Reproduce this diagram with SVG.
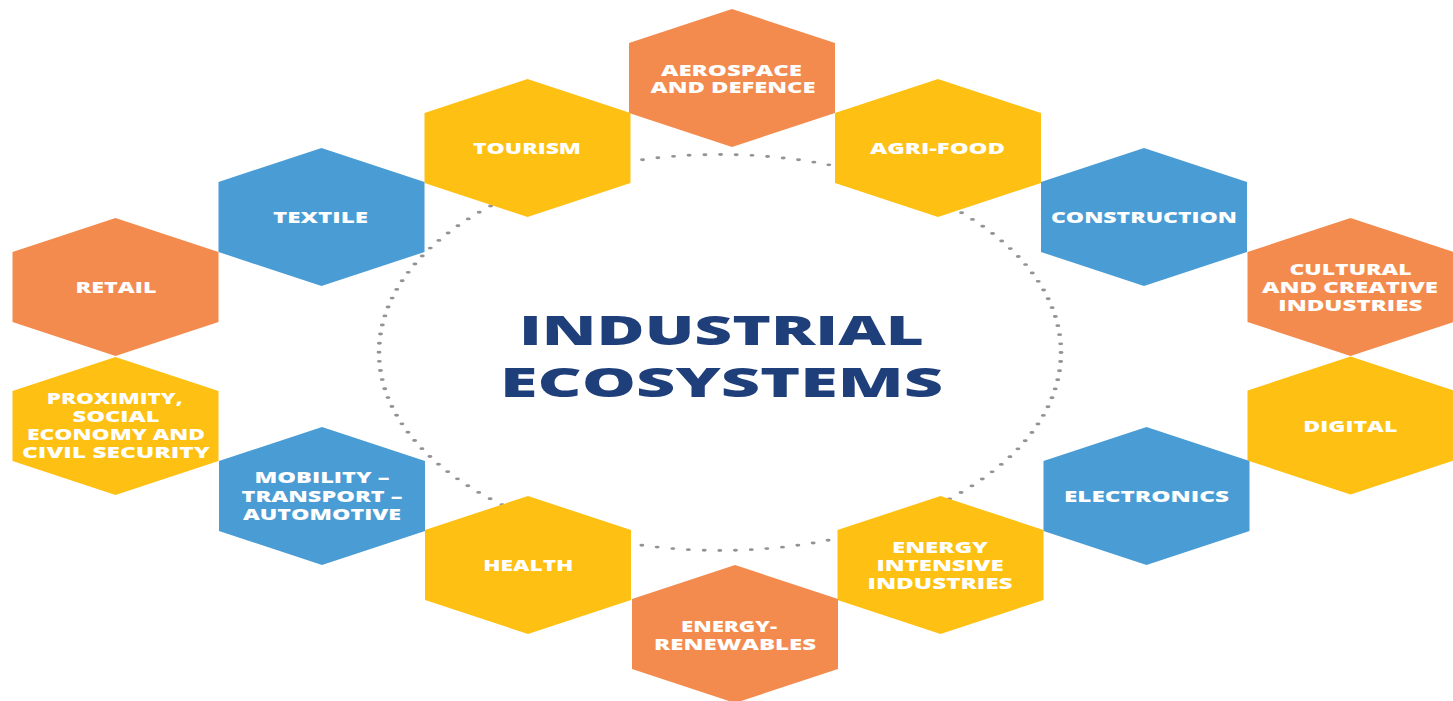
<svg xmlns="http://www.w3.org/2000/svg" xmlns:xlink="http://www.w3.org/1999/xlink" width="1453" height="701" viewBox="0 0 1453 701">
<style>
.o{fill:#F48B4E}
.y{fill:#FDC013}
.b{fill:#4A9CD4}
.lbl{font-family:"Open Sans","Liberation Sans",sans-serif;font-weight:800;font-size:15px;fill:#FFFFFF;text-anchor:middle}
.title{font-family:"Open Sans","Liberation Sans",sans-serif;font-weight:800;font-size:40px;fill:#1F3F7A;text-anchor:middle}
.dots{fill:none;stroke:#939393;stroke-width:2.9;stroke-linecap:round;stroke-dasharray:0 9.147}
</style>
<defs>
<polygon id="hex" points="0,-69 103,-35 103,35 0,69 -103,35 -103,-35"/>
</defs>
<rect width="1453" height="701" fill="#FFFFFF"/>
<g id="connectors">
<circle class="dots" cx="0" cy="0" r="198" transform="translate(720,352.5) scale(1.7222,1)"/>
</g>
<g id="aerospace"><use xlink:href="#hex" class="o" x="732" y="78"/>
<text class="lbl" transform="matrix(1.6 0 0 1 731.5 75.5)" textLength="88.1" lengthAdjust="spacingAndGlyphs">AEROSPACE</text>
<text class="lbl" transform="matrix(1.6 0 0 1 733 93)" textLength="103.1" lengthAdjust="spacingAndGlyphs">AND DEFENCE</text></g>
<g id="tourism"><use xlink:href="#hex" class="y" x="527.5" y="148"/>
<text class="lbl" transform="matrix(1.6 0 0 1 527 154)" textLength="67.5" lengthAdjust="spacingAndGlyphs">TOURISM</text></g>
<g id="agrifood"><use xlink:href="#hex" class="y" x="938" y="148"/>
<text class="lbl" transform="matrix(1.6 0 0 1 937.5 154)" textLength="84.4" lengthAdjust="spacingAndGlyphs">AGRI-FOOD</text></g>
<g id="textile"><use xlink:href="#hex" class="b" x="321.5" y="217"/>
<text class="lbl" transform="matrix(1.6 0 0 1 320.5 223)" textLength="59.4" lengthAdjust="spacingAndGlyphs">TEXTILE</text></g>
<g id="construction"><use xlink:href="#hex" class="b" x="1144" y="217"/>
<text class="lbl" transform="matrix(1.6 0 0 1 1144 223)" textLength="116.3" lengthAdjust="spacingAndGlyphs">CONSTRUCTION</text></g>
<g id="retail"><use xlink:href="#hex" class="o" x="115.5" y="287"/>
<text class="lbl" transform="matrix(1.6 0 0 1 116 292.5)" textLength="50.6" lengthAdjust="spacingAndGlyphs">RETAIL</text></g>
<g id="cultural"><use xlink:href="#hex" class="o" x="1350.5" y="287"/>
<text class="lbl" transform="matrix(1.6 0 0 1 1350.5 275)" textLength="76.3" lengthAdjust="spacingAndGlyphs">CULTURAL</text>
<text class="lbl" transform="matrix(1.6 0 0 1 1350 292.7)" textLength="110" lengthAdjust="spacingAndGlyphs">AND CREATIVE</text>
<text class="lbl" transform="matrix(1.6 0 0 1 1350.3 310.7)" textLength="90" lengthAdjust="spacingAndGlyphs">INDUSTRIES</text></g>
<g id="proximity"><use xlink:href="#hex" class="y" x="115.5" y="426"/>
<text class="lbl" transform="matrix(1.6 0 0 1 114.7 403.5)" textLength="85" lengthAdjust="spacingAndGlyphs">PROXIMITY,</text>
<text class="lbl" transform="matrix(1.6 0 0 1 116 421.5)" textLength="54.4" lengthAdjust="spacingAndGlyphs">SOCIAL</text>
<text class="lbl" transform="matrix(1.6 0 0 1 116 439.5)" textLength="111.3" lengthAdjust="spacingAndGlyphs">ECONOMY AND</text>
<text class="lbl" transform="matrix(1.6 0 0 1 116 457.5)" textLength="117.5" lengthAdjust="spacingAndGlyphs">CIVIL SECURITY</text></g>
<g id="digital"><use xlink:href="#hex" class="y" x="1350.5" y="425.5"/>
<text class="lbl" transform="matrix(1.6 0 0 1 1350.3 431.5)" textLength="58.8" lengthAdjust="spacingAndGlyphs">DIGITAL</text></g>
<g id="mobility"><use xlink:href="#hex" class="b" x="322" y="496"/>
<text class="lbl" transform="matrix(1.6 0 0 1 322 483.3)" textLength="84.4" lengthAdjust="spacingAndGlyphs">MOBILITY –</text>
<text class="lbl" transform="matrix(1.6 0 0 1 322 501.7)" textLength="100.6" lengthAdjust="spacingAndGlyphs">TRANSPORT –</text>
<text class="lbl" transform="matrix(1.6 0 0 1 322 520)" textLength="98.8" lengthAdjust="spacingAndGlyphs">AUTOMOTIVE</text></g>
<g id="electronics"><use xlink:href="#hex" class="b" x="1146.5" y="496"/>
<text class="lbl" transform="matrix(1.6 0 0 1 1146.5 502)" textLength="103.1" lengthAdjust="spacingAndGlyphs">ELECTRONICS</text></g>
<g id="health"><use xlink:href="#hex" class="y" x="528" y="565"/>
<text class="lbl" transform="matrix(1.6 0 0 1 528.3 571)" textLength="56.3" lengthAdjust="spacingAndGlyphs">HEALTH</text></g>
<g id="energyintensive"><use xlink:href="#hex" class="y" x="940.5" y="565"/>
<text class="lbl" transform="matrix(1.6 0 0 1 940 553)" textLength="60" lengthAdjust="spacingAndGlyphs">ENERGY</text>
<text class="lbl" transform="matrix(1.6 0 0 1 940 571)" textLength="79.4" lengthAdjust="spacingAndGlyphs">INTENSIVE</text>
<text class="lbl" transform="matrix(1.6 0 0 1 940 589)" textLength="90.6" lengthAdjust="spacingAndGlyphs">INDUSTRIES</text></g>
<g id="energyrenewables"><use xlink:href="#hex" class="o" x="735" y="634"/>
<text class="lbl" transform="matrix(1.6 0 0 1 729 632)" textLength="60" lengthAdjust="spacingAndGlyphs">ENERGY-</text>
<text class="lbl" transform="matrix(1.6 0 0 1 735 650)" textLength="101.3" lengthAdjust="spacingAndGlyphs">RENEWABLES</text></g>
<g id="title">
<text class="title" transform="matrix(1.6 0 0 1 721.5 345)" textLength="253.1" lengthAdjust="spacingAndGlyphs">INDUSTRIAL</text>
<text class="title" transform="matrix(1.6 0 0 1 721.5 397)" textLength="276.9" lengthAdjust="spacingAndGlyphs">ECOSYSTEMS</text>
</g>
</svg>
